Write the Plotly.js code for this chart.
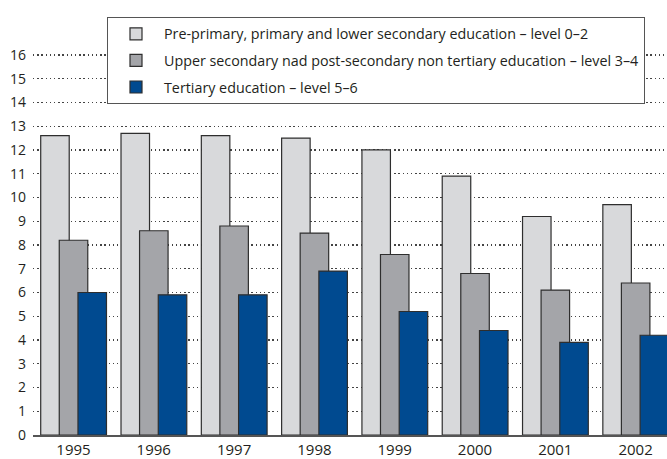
<!DOCTYPE html>
<html>
<head>
<meta charset="utf-8">
<script src="https://cdn.plot.ly/plotly-3.0.1.min.js"></script>
<style>html,body{margin:0;padding:0;background:#fff;}#chart{width:667px;height:459px;}</style>
</head>
<body>
<div id="chart"></div>
<script>
var years = ['1995','1996','1997','1998','1999','2000','2001','2002'];
var seriesNames = [
  'Pre-primary, primary and lower secondary education – level 0–2',
  'Upper secondary nad post-secondary non tertiary education – level 3–4',
  'Tertiary education – level 5–6'
];
var level02 = [12.6, 12.7, 12.6, 12.5, 12.0, 10.9, 9.2, 9.7];
var level34 = [8.2, 8.6, 8.8, 8.5, 7.6, 6.8, 6.1, 6.4];
var level56 = [6.0, 5.9, 5.9, 6.9, 5.2, 4.4, 3.9, 4.2];
var yTicks = [0,1,2,3,4,5,6,7,8,9,10,11,12,13,14,15,16];

var colors = ['#d8d9db', '#a4a5a9', '#004a90'];
var offsets = [-0.408, -0.177, 0.056];
var values = [level02, level34, level56];

var traces = values.map(function(v, i){
  return {
    type: 'bar',
    name: seriesNames[i],
    x: years,
    y: v,
    width: 0.355,
    offset: offsets[i],
    legendgroup: 'g' + i,
    marker: {color: colors[i], line: {color: '#2e2e2e', width: 1.2}},
    hoverinfo: 'x+y'
  };
});

var layout = {
  width: 667, height: 459,
  margin: {l: 33, r: 0, t: 40, b: 24},
  paper_bgcolor: '#ffffff',
  plot_bgcolor: '#ffffff',
  barmode: 'overlay',
  font: {family: '"Open Sans", sans-serif', color: '#231f20'},
  showlegend: true,
  legend: {
    x: (107 - 33) / 634, y: (435 - 17) / 395,
    xanchor: 'left', yanchor: 'top',
    bgcolor: '#ffffff', bordercolor: '#555555', borderwidth: 1,
    font: {size: 14.3, family: '"Open Sans", sans-serif', color: '#231f20'},
    traceorder: 'grouped', tracegroupgap: 5,
    itemwidth: 46
  },
  xaxis: {
    type: 'category',
    range: [-0.504, 7.391],
    showgrid: false,
    showline: true, linecolor: '#555555', linewidth: 1.5,
    ticks: '',
    tickfont: {size: 15},
    ticklabelstandoff: 0,
    zeroline: false,
    fixedrange: true
  },
  yaxis: {
    range: [0, 16.63],
    tickvals: yTicks,
    ticktext: yTicks.map(String),
    showgrid: true, gridcolor: '#444444', griddash: '1.3px,2.9px', gridwidth: 1.2,
    zeroline: false,
    showline: false,
    ticks: '',
    ticklabelstandoff: 6,
    tickfont: {size: 14},
    fixedrange: true
  }
};

Plotly.newPlot('chart', traces, layout, {displayModeBar: false, staticPlot: true});
</script>
</body>
</html>
